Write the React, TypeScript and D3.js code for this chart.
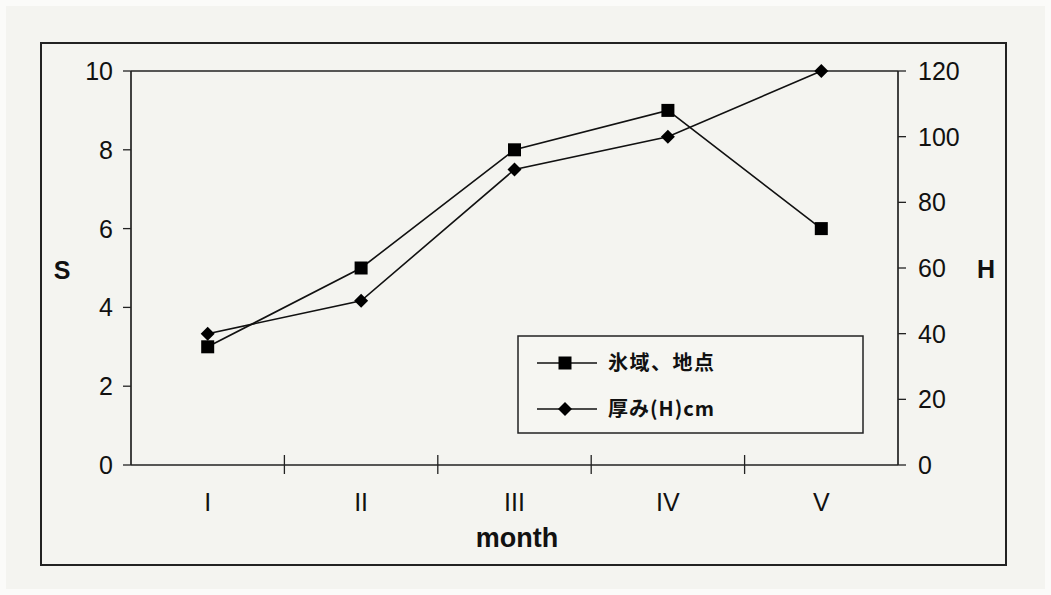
import React from "react";
import * as d3 from "d3";

const months = ["I", "II", "III", "IV", "V"];
const iceValues = [3, 5, 8, 9, 6];
const thickValues = [40, 50, 90, 100, 120];
const leftTicks = [0, 2, 4, 6, 8, 10];
const rightTicks = [0, 20, 40, 60, 80, 100, 120];
const legendLabels = ["氷域、地点", "厚み(H)cm"];

const W = 1051;
const H = 595;
const plot = { left: 131, right: 898, top: 71, bottom: 465 };

export default function App() {
  const x = d3.scaleBand<string>().domain(months).range([plot.left, plot.right]);
  const yL = d3.scaleLinear().domain([0, 10]).range([plot.bottom, plot.top]);
  const yR = d3.scaleLinear().domain([0, 120]).range([plot.bottom, plot.top]);
  const cx = (m: string) => (x(m) as number) + x.bandwidth() / 2;

  const line1 = d3.line<number>().x((_, i) => cx(months[i])).y((d) => yL(d));
  const line2 = d3.line<number>().x((_, i) => cx(months[i])).y((d) => yR(d));

  const font = "'Liberation Sans', Arial, sans-serif";
  const sq = 13;
  const dm = 7;
  const diamond = (px: number, py: number) =>
    `M${px},${py - dm}L${px + dm},${py}L${px},${py + dm}L${px - dm},${py}Z`;

  const boundaries = months.slice(1).map((m) => x(m) as number);

  return (
    <svg
      width={W}
      height={H}
      style={{ position: "absolute", left: 0, top: 0, display: "block" }}
      fontFamily={font}
    >
      <rect x={0} y={0} width={W} height={H} fill="#fbfbf9" />
      <rect x={6} y={6} width={W - 12} height={H - 12} fill="#f4f4f0" />
      {/* outer frame */}
      <rect x={41} y={43} width={965} height={522} fill="none" stroke="#222" strokeWidth={2} />
      {/* plot frame */}
      <line x1={plot.left} x2={plot.right} y1={plot.top} y2={plot.top} stroke="#222" strokeWidth={1.7} />
      <line x1={plot.left} x2={plot.right} y1={plot.bottom} y2={plot.bottom} stroke="#222" strokeWidth={1.7} />
      <line x1={plot.left} x2={plot.left} y1={plot.top} y2={plot.bottom} stroke="#222" strokeWidth={1.7} />
      <line x1={plot.right} x2={plot.right} y1={plot.top} y2={plot.bottom} stroke="#222" strokeWidth={1.7} />

      {/* left axis */}
      {leftTicks.map((t) => (
        <g key={"l" + t}>
          <line x1={plot.left - 8} x2={plot.left} y1={yL(t)} y2={yL(t)} stroke="#222" strokeWidth={1.3} />
          <text x={113} y={yL(t)} dy="0.36em" textAnchor="end" fontSize={25} fill="#111">
            {t}
          </text>
        </g>
      ))}
      {/* right axis */}
      {rightTicks.map((t) => (
        <g key={"r" + t}>
          <line x1={plot.right} x2={plot.right + 8} y1={yR(t)} y2={yR(t)} stroke="#222" strokeWidth={1.3} />
          <text x={918} y={yR(t)} dy="0.36em" textAnchor="start" fontSize={25} fill="#111">
            {t}
          </text>
        </g>
      ))}
      {/* x axis ticks */}
      {boundaries.map((b, i) => (
        <line key={"b" + i} x1={b} x2={b} y1={plot.bottom - 10} y2={plot.bottom + 9} stroke="#222" strokeWidth={1.3} />
      ))}
      {months.map((m) => (
        <text key={m} x={cx(m)} y={511} textAnchor="middle" fontSize={25} fill="#111">
          {m}
        </text>
      ))}
      <text x={517} y={547} textAnchor="middle" fontSize={27} fontWeight="bold" fill="#111">
        month
      </text>
      <text x={62} y={279} textAnchor="middle" fontSize={25} fontWeight="bold" fill="#111">
        S
      </text>
      <text x={986} y={278} textAnchor="middle" fontSize={25} fontWeight="bold" fill="#111">
        H
      </text>

      {/* series */}
      <path d={line1(iceValues) || ""} fill="none" stroke="#111" strokeWidth={1.6} />
      <path d={line2(thickValues) || ""} fill="none" stroke="#111" strokeWidth={1.6} />
      {iceValues.map((v, i) => (
        <rect key={"s" + i} x={cx(months[i]) - sq / 2} y={yL(v) - sq / 2} width={sq} height={sq} fill="#000" />
      ))}
      {thickValues.map((v, i) => (
        <path key={"d" + i} d={diamond(cx(months[i]), yR(v))} fill="#000" />
      ))}

      {/* legend */}
      <rect x={518} y={336} width={345} height={97} fill="#f6f6f2" stroke="#222" strokeWidth={1.5} />
      <line x1={537} x2={597} y1={363} y2={363} stroke="#111" strokeWidth={1.6} />
      <rect x={565 - sq / 2} y={363 - sq / 2} width={sq} height={sq} fill="#000" />
      <text x={608} y={363} dy="0.36em" fontSize={20} fontWeight="bold" letterSpacing={1.5} fontFamily="'Noto Sans CJK JP', sans-serif" fill="#111">
        {legendLabels[0]}
      </text>
      <line x1={537} x2={597} y1={409} y2={409} stroke="#111" strokeWidth={1.6} />
      <path d={diamond(565, 409)} fill="#000" />
      <text x={608} y={409} dy="0.36em" fontSize={20} fontWeight="bold" letterSpacing={1} fontFamily="'Noto Sans CJK JP', sans-serif" fill="#111">
        {legendLabels[1]}
      </text>
    </svg>
  );
}
